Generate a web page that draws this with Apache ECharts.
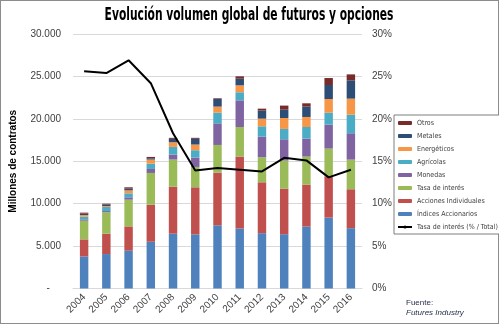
<!DOCTYPE html>
<html>
<head>
<meta charset="utf-8">
<script src="https://cdn.jsdelivr.net/npm/echarts@6/dist/echarts.min.js"></script>
<style>
  html, body { margin: 0; padding: 0; background: #fff; }
  #frame { position: absolute; left: 0; top: 0; width: 497px; height: 322px; border: 1px solid #8c8c8c; }
  #chart { position: absolute; left: 0; top: 0; width: 499px; height: 326px; }
</style>
</head>
<body>
<div id="frame"></div>
<div id="chart"></div>
<script>
// Volume of futures and options traded worldwide, millions of contracts
const years = ['2004','2005','2006','2007','2008','2009','2010','2011','2012','2013','2014','2015','2016'];

const indicesAccionarios   = [3780, 4060, 4450, 5510, 6460, 6380, 7450, 7070, 6520, 6400, 7300, 8360, 7110];
const accionesIndividuales = [2010, 2400, 2870, 4370, 5550, 5550, 6210, 8480, 6000, 5380, 4950, 4870, 4590];
const tasaInteres          = [2200, 2520, 3150, 3740, 3190, 2400, 3260, 3490, 2950, 3300, 3300, 3260, 3490];
const monedas              = [ 160,  150,  280,  470,  590, 1100, 2550, 3140, 2430, 2510, 2120, 2830, 3110];
const agricolas            = [ 310,  480,  470,  630,  900,  870, 1260,  950, 1220, 1220, 1370, 1410, 2190];
const energeticos          = [ 200,  110,  350,  480,  550,  670,  710,  820,  900, 1290, 1180, 1610, 1890];
const metales              = [ 160,  160,  200,  150,  400,  670,  900,  780,  950,  980, 1220, 1650, 2160];
const otros                = [ 120,  120,  160,  160,  120,  120,   80,  280,  230,  480,  390,  820,  700];

// Share of interest-rate contracts in the total (%)
const tasaInteresPct = [25.6, 25.4, 26.9, 24.2, 18.3, 13.9, 14.2, 14.0, 13.8, 15.4, 15.1, 13.1, 14.0];

const leftTicks = { min: 0, max: 30000, interval: 5000 };
const rightTicks = { min: 0, max: 30, interval: 5 };

const barSeries = [
  { name: 'Índices Accionarios',   data: indicesAccionarios,   color: '#4F81BD' },
  { name: 'Acciones Individuales', data: accionesIndividuales, color: '#C0504D' },
  { name: 'Tasa de interés',       data: tasaInteres,          color: '#9BBB59' },
  { name: 'Monedas',               data: monedas,              color: '#8064A2' },
  { name: 'Agrícolas',             data: agricolas,            color: '#4BACC6' },
  { name: 'Energéticos',           data: energeticos,          color: '#F79646' },
  { name: 'Metales',               data: metales,              color: '#2C4D75' },
  { name: 'Otros',                 data: otros,                color: '#772C2A' }
];
const lineName = 'Tasa de interés (% / Total)';
const titleText = 'Evolución volumen global de futuros y opciones';

const font = 'Liberation Sans';
const condensed = '"DejaVu Sans Condensed", "Liberation Sans Narrow", sans-serif';
const chart = echarts.init(document.getElementById('chart'), null, { renderer: 'canvas' });

function thousands(v) {
  if (v === 0) return '-    ';
  return String(v).replace(/\B(?=(\d{3})+(?!\d))/g, '.');
}

const series = barSeries.map(s => ({
  name: s.name,
  type: 'bar',
  stack: 'total',
  barWidth: '38%',
  data: s.data,
  itemStyle: { color: s.color },
  emphasis: { disabled: true }
}));
series.push({
  name: lineName,
  type: 'line',
  yAxisIndex: 1,
  data: tasaInteresPct,
  symbol: 'none',
  lineStyle: { color: '#000', width: 2 },
  itemStyle: { color: '#000' },
  z: 5
});

chart.setOption({
  animation: false,
  backgroundColor: 'transparent',
  textStyle: { fontFamily: font },
  grid: { left: 68, right: 137, top: 34, bottom: 37.5, containLabel: false },
  legend: {
    orient: 'vertical',
    left: 394,
    top: 115,
    padding: [3, 2, 2, 3],
    itemGap: 3,
    itemWidth: 14,
    itemHeight: 4,
    borderColor: '#7f7f7f',
    borderWidth: 1,
    backgroundColor: '#fff',
    textStyle: { fontSize: 7, color: '#404040', fontFamily: condensed, lineHeight: 10 },
    data: ['Otros', 'Metales', 'Energéticos', 'Agrícolas', 'Monedas', 'Tasa de interés',
           'Acciones Individuales', 'Índices Accionarios', lineName]
  },
  xAxis: {
    type: 'category',
    data: years,
    axisLine: { show: true, lineStyle: { color: '#d9d9d9' } },
    axisTick: { show: false },
    axisLabel: { rotate: 45, fontSize: 10, color: '#404040', margin: 7, interval: 0 }
  },
  yAxis: [
    {
      type: 'value',
      min: leftTicks.min, max: leftTicks.max, interval: leftTicks.interval,
      name: 'Millones de contratos',
      nameLocation: 'middle',
      nameGap: 55,
      nameRotate: 90,
      nameTextStyle: { fontWeight: 'bold', fontSize: 10, color: '#000' },
      axisLine: { show: false },
      axisTick: { show: false },
      axisLabel: { formatter: thousands, fontSize: 10, color: '#404040', margin: 12 },
      splitLine: { lineStyle: { color: '#d9d9d9' } }
    },
    {
      type: 'value',
      min: rightTicks.min, max: rightTicks.max, interval: rightTicks.interval,
      axisLine: { show: false },
      axisTick: { show: false },
      axisLabel: { formatter: '{value}%', fontSize: 10, color: '#404040', margin: 10 },
      splitLine: { show: false }
    }
  ],
  graphic: [
    {
      // Heavy condensed headline, squeezed horizontally
      type: 'text', x: 249, y: 16, scaleX: 0.70,
      style: {
        text: titleText, fill: '#000',
        font: 'bold 17px "DejaVu Sans Condensed", "Liberation Sans Narrow", sans-serif',
        align: 'center', verticalAlign: 'middle'
      }
    },
    { type: 'text', left: 406, top: 299, style: { text: 'Fuente:', font: '8px "Liberation Sans"', fill: '#1f2a44' } },
    { type: 'text', left: 406, top: 309, style: { text: 'Futures Industry', font: 'italic 8px "Liberation Sans"', fill: '#1f2a44' } }
  ],
  series: series
});
</script>
</body>
</html>
